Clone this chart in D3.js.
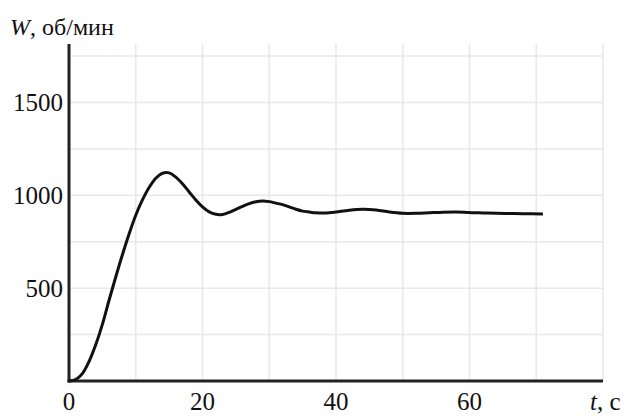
<!DOCTYPE html>
<html>
<head>
<meta charset="utf-8">
<script src="https://cdn.jsdelivr.net/npm/d3@7"></script>
</head>
<body style="margin:0">
<div id="chart"></div>
<script>
// readings: time, s and speed, rpm
var time = [0, 1, 2, 3, 4, 5, 6, 7, 8, 9, 10, 11, 12, 13, 14, 15, 16, 17, 18, 19, 20,
  21, 22, 23, 24, 25, 26, 27, 28, 29, 30, 31, 32, 33, 34, 35, 36, 37, 38, 39, 40,
  42, 44, 46, 48, 50, 52, 54, 56, 58, 60, 62, 64, 66, 68, 71];
var speed = [0, 8, 40, 105, 195, 305, 435, 560, 680, 792, 893, 975, 1042, 1092, 1119, 1121, 1098, 1062, 1018, 975, 938,
  911, 898, 897, 908, 924, 940, 955, 965, 969, 966, 958, 950, 938, 925, 915, 910, 906, 905, 906, 910,
  920, 925, 921, 910, 903, 903, 906, 909, 910, 907, 905, 903, 902, 901, 900];

var xTicks = [0, 20, 40, 60];
var yTicks = [500, 1000, 1500];
var xGrid = [10, 20, 30, 40, 50, 60, 70, 80];
var yGrid = [250, 500, 750, 1000, 1250, 1500, 1750];

var width = 626,
  height = 416;

var x = d3.scaleLinear().domain([0, 80]).range([69, 603]);
var y = d3.scaleLinear().domain([0, 1815]).range([381, 44]);

var svg = d3.select("#chart").append("svg")
  .attr("width", width)
  .attr("height", height)
  .attr("font-family", "serif");

// grid
svg.append("g").selectAll("line")
  .data(xGrid)
  .enter().append("line")
  .attr("x1", function(d) { return x(d); })
  .attr("x2", function(d) { return x(d); })
  .attr("y1", y.range()[0])
  .attr("y2", y.range()[1])
  .style("stroke", "#e8e8e8")
  .style("stroke-width", 1.5);

svg.append("g").selectAll("line")
  .data(yGrid)
  .enter().append("line")
  .attr("x1", x.range()[0])
  .attr("x2", x.range()[1])
  .attr("y1", function(d) { return y(d); })
  .attr("y2", function(d) { return y(d); })
  .style("stroke", "#e8e8e8")
  .style("stroke-width", 1.5);

// axes
svg.append("line")
  .attr("x1", x(0)).attr("x2", x(0))
  .attr("y1", y(0) + 1.5).attr("y2", y.range()[1])
  .style("stroke", "#222").style("stroke-width", 3);

svg.append("line")
  .attr("x1", x(0) - 1.5).attr("x2", x.range()[1])
  .attr("y1", y(0)).attr("y2", y(0))
  .style("stroke", "#222").style("stroke-width", 3);

// tick labels
svg.append("g").selectAll("text")
  .data(xTicks)
  .enter().append("text")
  .attr("x", function(d) { return x(d); })
  .attr("y", 410)
  .attr("text-anchor", "middle")
  .attr("font-family", "serif")
  .attr("font-size", 25)
  .attr("fill", "#111")
  .text(function(d) { return d; });

svg.append("g").selectAll("text")
  .data(yTicks)
  .enter().append("text")
  .attr("x", 63)
  .attr("y", function(d) { return y(d) + 9; })
  .attr("text-anchor", "end")
  .attr("font-family", "serif")
  .attr("font-size", 25)
  .attr("fill", "#111")
  .text(function(d) { return d; });

// axis titles
var yTitle = svg.append("text")
  .attr("x", 10)
  .attr("y", 35)
  .attr("font-family", "serif")
  .attr("font-size", 24)
  .attr("fill", "#111");
yTitle.append("tspan").attr("font-style", "italic").text("W");
yTitle.append("tspan").text(", об/мин");

var xTitle = svg.append("text")
  .attr("x", 590)
  .attr("y", 410)
  .attr("font-family", "serif")
  .attr("font-size", 25)
  .attr("fill", "#111");
xTitle.append("tspan").attr("font-style", "italic").text("t");
xTitle.append("tspan").text(", с");

// curve
var line = d3.line()
  .x(function(d, i) { return x(time[i]); })
  .y(function(d) { return y(d); })
  .curve(d3.curveCatmullRom);

svg.append("path")
  .datum(speed)
  .attr("d", line)
  .style("fill", "none")
  .style("stroke", "#111")
  .style("stroke-width", 3);
</script>
</body>
</html>
